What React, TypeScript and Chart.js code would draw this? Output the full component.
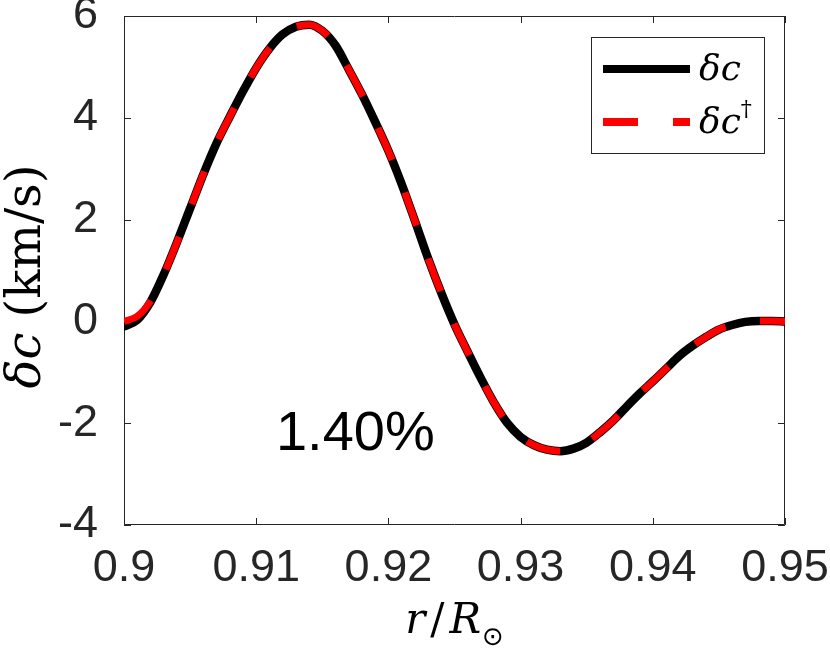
import React, { useEffect, useRef } from "react";
import { Chart, registerables } from "chart.js";

Chart.register(...registerables);

const radius = [
  0.900, 0.901, 0.902, 0.903, 0.904, 0.905, 0.906, 0.907, 0.908, 0.909,
  0.910, 0.911, 0.912, 0.913, 0.914, 0.915, 0.916, 0.917, 0.918, 0.919,
  0.920, 0.921, 0.922, 0.923, 0.924, 0.925, 0.926, 0.927, 0.928, 0.929,
  0.930, 0.931, 0.932, 0.933, 0.934, 0.935, 0.936, 0.937, 0.938, 0.939,
  0.940, 0.941, 0.942, 0.943, 0.944, 0.945, 0.946, 0.947, 0.948, 0.949,
  0.950,
];

const deltaC = [
  -0.10, 0.03, 0.38, 0.92, 1.55, 2.22, 2.89, 3.50, 4.02, 4.52,
  4.98, 5.36, 5.64, 5.79, 5.83, 5.71, 5.42, 4.95, 4.46, 3.92,
  3.35, 2.70, 1.98, 1.24, 0.56, -0.06, -0.60, -1.12, -1.60, -2.00,
  -2.27, -2.43, -2.52, -2.55, -2.50, -2.38, -2.18, -1.95, -1.68, -1.42,
  -1.18, -0.93, -0.68, -0.48, -0.31, -0.16, -0.07, -0.01, 0.01, 0.01,
  0.00,
];

const deltaCDagger = [
  0.00, 0.10, 0.40, 0.92, 1.55, 2.22, 2.89, 3.50, 4.02, 4.52,
  4.98, 5.36, 5.64, 5.79, 5.83, 5.71, 5.42, 4.95, 4.46, 3.92,
  3.35, 2.70, 1.98, 1.24, 0.56, -0.06, -0.60, -1.12, -1.60, -2.00,
  -2.27, -2.43, -2.52, -2.55, -2.50, -2.38, -2.18, -1.95, -1.68, -1.42,
  -1.18, -0.93, -0.68, -0.48, -0.31, -0.16, -0.07, -0.01, 0.01, 0.01,
  0.00,
];

const xTicks = [0.9, 0.91, 0.92, 0.93, 0.94, 0.95];
const xTickLabels = ["0.9", "0.91", "0.92", "0.93", "0.94", "0.95"];
const yTicks = [-4, -2, 0, 2, 4, 6];
const yTickLabels = ["-4", "-2", "0", "2", "4", "6"];

const annotationText = "1.40%";
const annotationX = 0.9175;
const annotationY = -2.52;

const AXIS_COLOR = "#262626";
const SERIF = "'DejaVu Serif', 'Liberation Serif', serif";
const SANS = "'Liberation Sans', Arial, sans-serif";

const decorPlugin = {
  id: "decor",
  beforeDatasetsDraw(chart: any) {
    const { ctx, chartArea } = chart;
    const { left, right, top, bottom } = chartArea;
    const xs = chart.scales.x;
    const ys = chart.scales.y;
    ctx.save();
    ctx.strokeStyle = AXIS_COLOR;
    ctx.lineWidth = 1;
    ctx.beginPath();
    ctx.rect(left + 0.5, top + 0.5, right - left - 1, bottom - top - 1);
    ctx.stroke();
    const tl = 7;
    ctx.beginPath();
    xTicks.forEach((v) => {
      const px = Math.round(xs.getPixelForValue(v)) + 0.5;
      ctx.moveTo(px, bottom);
      ctx.lineTo(px, bottom - tl);
      ctx.moveTo(px, top);
      ctx.lineTo(px, top + tl);
    });
    yTicks.forEach((v) => {
      const py = Math.round(ys.getPixelForValue(v)) + 0.5;
      ctx.moveTo(left, py);
      ctx.lineTo(left + tl, py);
      ctx.moveTo(right, py);
      ctx.lineTo(right - tl, py);
    });
    ctx.stroke();
    ctx.restore();
  },
  afterDraw(chart: any) {
    const { ctx, chartArea } = chart;
    const { left, right, top, bottom } = chartArea;
    const xs = chart.scales.x;
    const ys = chart.scales.y;
    ctx.save();

    // annotation
    ctx.fillStyle = "#000";
    ctx.font = `56px ${SANS}`;
    ctx.textAlign = "center";
    ctx.textBaseline = "alphabetic";
    ctx.fillText(annotationText, xs.getPixelForValue(annotationX), ys.getPixelForValue(annotationY));

    // legend
    const bx = right - 194;
    const by = top + 21;
    const bw = 174;
    const bh = 117;
    ctx.fillStyle = "#fff";
    ctx.fillRect(bx, by, bw, bh);
    ctx.strokeStyle = AXIS_COLOR;
    ctx.lineWidth = 1;
    ctx.strokeRect(bx + 0.5, by + 0.5, bw - 1, bh - 1);

    const l1 = by + 32;
    const l2 = by + 85;
    ctx.lineCap = "butt";
    ctx.strokeStyle = "#000";
    ctx.lineWidth = 8;
    ctx.beginPath();
    ctx.moveTo(bx + 12, l1);
    ctx.lineTo(bx + 99, l1);
    ctx.stroke();
    ctx.strokeStyle = "#ff0000";
    ctx.lineWidth = 8;
    ctx.setLineDash([35, 35]);
    ctx.beginPath();
    ctx.moveTo(bx + 12, l2);
    ctx.lineTo(bx + 99, l2);
    ctx.stroke();
    ctx.setLineDash([]);

    ctx.fillStyle = "#000";
    ctx.textAlign = "left";
    ctx.font = `italic 36px ${SERIF}`;
    ctx.fillText("δc", bx + 108, l1 + 11);
    ctx.fillText("δc", bx + 108, l2 + 11);
    const w = ctx.measureText("δc").width;
    ctx.font = `22px ${SERIF}`;
    ctx.fillText("†", bx + 108 + w, l2 - 6);

    // x title: r / R_sun
    const cx = (left + right) / 2;
    const ty = bottom + 108;
    const fItal = `italic 42px ${SERIF}`;
    const fUp = `42px ${SERIF}`;
    const fSun = `26px 'DejaVu Sans', sans-serif`;
    ctx.font = fItal;
    const wr = ctx.measureText("r").width;
    const wR = ctx.measureText("R").width;
    ctx.font = fUp;
    const ws = ctx.measureText("/").width;
    ctx.font = fSun;
    const wo = ctx.measureText("⊙").width;
    const gap = 5;
    const total = wr + gap + ws + gap + wR + 1 + wo;
    let x0 = cx - total / 2;
    ctx.font = fItal;
    ctx.fillText("r", x0, ty);
    x0 += wr + gap;
    ctx.font = fUp;
    ctx.fillText("/", x0, ty);
    x0 += ws + gap;
    ctx.font = fItal;
    ctx.fillText("R", x0, ty);
    x0 += wR + 1;
    ctx.font = fSun;
    ctx.fillText("⊙", x0, ty + 12);

    // y title
    ctx.translate(40, (top + bottom) / 2 + 6);
    ctx.rotate(-Math.PI / 2);
    ctx.font = `italic 48px ${SERIF}`;
    const wd = ctx.measureText("δc").width;
    ctx.font = `48px ${SERIF}`;
    const wu = ctx.measureText(" (km/s)").width;
    const y0 = -(wd + wu) / 2;
    ctx.textBaseline = "alphabetic";
    ctx.font = `italic 48px ${SERIF}`;
    ctx.fillText("δc", y0, 0);
    ctx.font = `48px ${SERIF}`;
    ctx.fillText(" (km/s)", y0 + wd, 0);
    ctx.restore();
  },
};

export default function App() {
  const canvasRef = useRef<HTMLCanvasElement | null>(null);

  useEffect(() => {
    const canvas = canvasRef.current;
    if (!canvas) return;
    const chart = new Chart(canvas, {
      type: "line",
      data: {
        datasets: [
          {
            label: "δc†",
            data: radius.map((r, i) => ({ x: r, y: deltaCDagger[i] })),
            borderColor: "#ff0000",
            borderWidth: 7,
            borderDash: [35, 35],
            borderCapStyle: "butt",
            pointRadius: 0,
            cubicInterpolationMode: "monotone",
            fill: false,
            order: 0,
          },
          {
            label: "δc",
            data: radius.map((r, i) => ({ x: r, y: deltaC[i] })),
            borderColor: "#000000",
            borderWidth: 8.5,
            borderCapStyle: "round",
            borderJoinStyle: "round",
            pointRadius: 0,
            cubicInterpolationMode: "monotone",
            fill: false,
            order: 1,
          },
        ],
      },
      options: {
        animation: false,
        responsive: false,
        devicePixelRatio: 1,
        layout: { padding: { top: 16, right: 45, left: 0, bottom: 0 } },
        plugins: {
          legend: { display: false },
          tooltip: { enabled: false },
        },
        scales: {
          x: {
            type: "linear",
            min: 0.9,
            max: 0.95,
            grid: { display: false },
            border: { display: false },
            afterBuildTicks: (scale: any) => {
              scale.ticks = xTicks.map((v) => ({ value: v }));
            },
            afterFit: (scale: any) => {
              scale.height = 131;
              scale.paddingLeft = 0;
              scale.paddingRight = 0;
            },
            ticks: {
              autoSkip: false,
              maxRotation: 0,
              padding: 9,
              color: AXIS_COLOR,
              font: { family: SANS, size: 45 },
              callback: (v: any) => {
                const i = xTicks.findIndex((t) => Math.abs(t - Number(v)) < 1e-6);
                return i >= 0 ? xTickLabels[i] : "";
              },
            },
          },
          y: {
            type: "linear",
            min: -4,
            max: 6,
            grid: { display: false },
            border: { display: false },
            afterBuildTicks: (scale: any) => {
              scale.ticks = yTicks.map((v) => ({ value: v }));
            },
            afterFit: (scale: any) => {
              scale.width = 124;
              scale.paddingTop = 0;
              scale.paddingBottom = 0;
            },
            ticks: {
              autoSkip: false,
              padding: 18,
              color: AXIS_COLOR,
              font: { family: SANS, size: 45 },
              callback: (v: any) => {
                const i = yTicks.findIndex((t) => Math.abs(t - Number(v)) < 1e-6);
                return i >= 0 ? yTickLabels[i] : "";
              },
            },
          },
        },
      },
      plugins: [decorPlugin],
    } as any);
    return () => chart.destroy();
  }, []);

  return (
    <div style={{ position: "absolute", left: 0, top: 0, width: 830, height: 656, background: "#fff" }}>
      <canvas ref={canvasRef} width={830} height={656} style={{ display: "block" }} />
    </div>
  );
}
